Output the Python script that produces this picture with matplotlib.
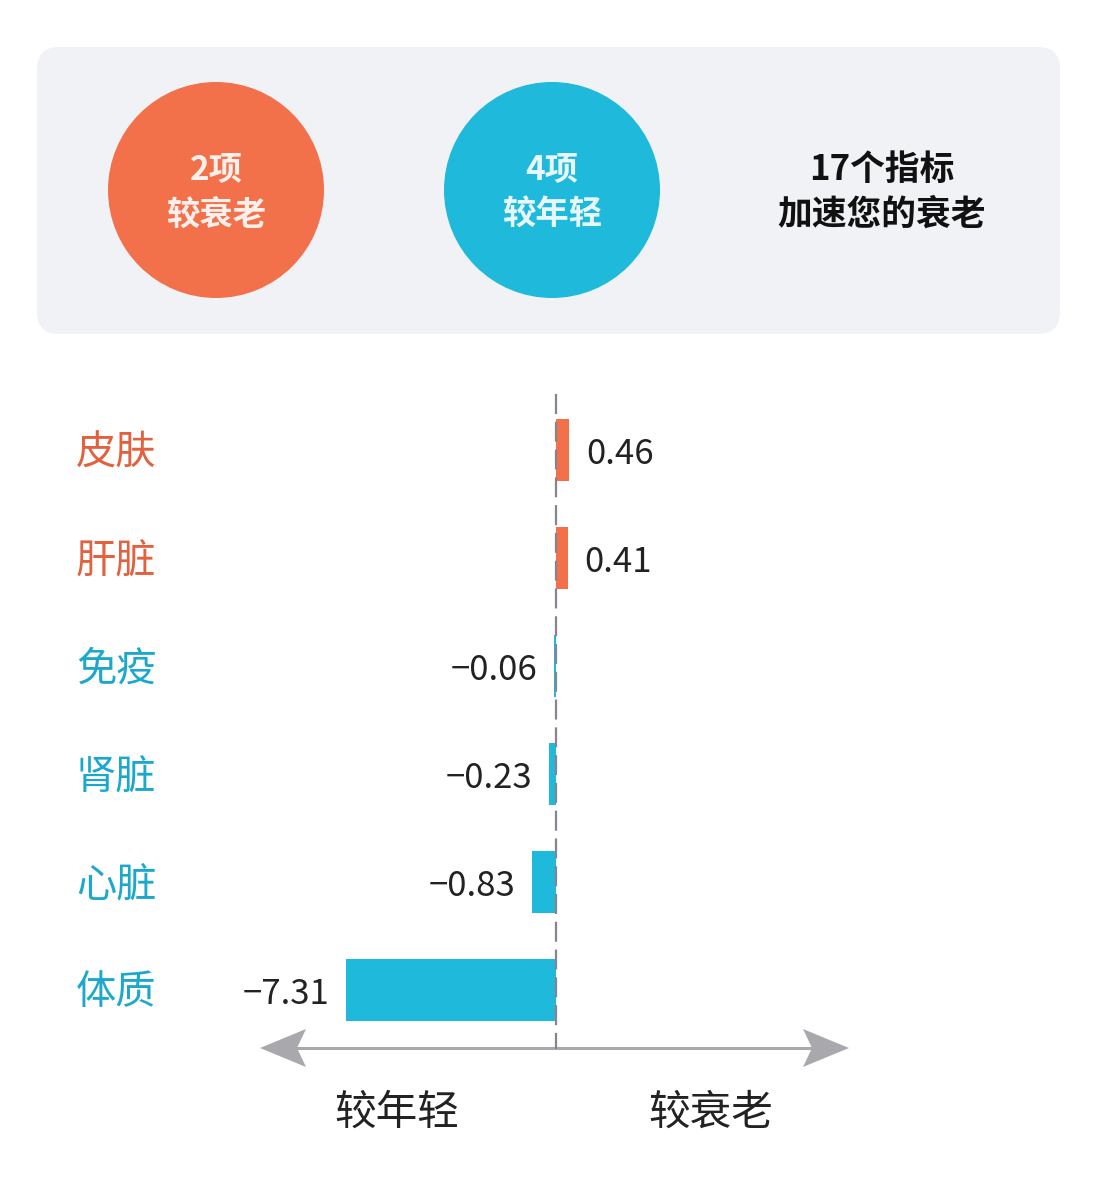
import numpy as np
import matplotlib
matplotlib.use('Agg')
import matplotlib.pyplot as plt
from matplotlib.patches import FancyBboxPatch, Circle, Polygon
from matplotlib.transforms import blended_transform_factory

plt.rcParams['font.family'] = ['Noto Sans CJK SC', 'DejaVu Sans']

# data
organs = ['皮肤', '肝脏', '免疫', '肾脏', '心脏', '体质']
ages = [0.46, 0.41, -0.06, -0.23, -0.83, -7.31]
total_items = 17
side_labels = ['较年轻', '较衰老']

orange = '#F2714A'
cyan = '#1EB9DB'
orange_txt = '#E2623F'
cyan_txt = '#1CA8CC'

W, H = 1102, 1196
fig = plt.figure(figsize=(W / 100, H / 100), dpi=100, facecolor='white')

# decoration layer in pixel units
deco = fig.add_axes([0, 0, 1, 1])
deco.set_xlim(0, W)
deco.set_ylim(H, 0)
deco.axis('off')

# bar layer
ax = fig.add_axes([0, 0, 1, 1])
ax.patch.set_alpha(0)
ppu = 210 / 7.31          # pixels per unit
x0 = 556                  # pixel of zero
ax.set_xlim(-x0 / ppu, (W - x0) / ppu)
step = 108
ytop = 450
ax.set_ylim((H - ytop) / step, -ytop / step)
ax.axis('off')

# header panel
box = FancyBboxPatch((37, 47), 1023, 287, boxstyle='round,pad=0,rounding_size=22',
                     facecolor='#F1F2F6', edgecolor='none')
deco.add_patch(box)

n_old = sum(1 for v in ages if v > 0)
n_young = sum(1 for v in ages if v < 0)
for cx, col, cnt, lab in [(216, orange, n_old, '较衰老'), (552, cyan, n_young, '较年轻')]:
    deco.add_patch(Circle((cx, 190), 108, facecolor=col, edgecolor='none'))
    deco.text(cx, 170, '%d项' % cnt, ha='center', va='center', fontsize=24,
              fontweight='bold', color='white', alpha=0.9)
    deco.text(cx, 215, lab, ha='center', va='center', fontsize=24,
              fontweight='bold', color='white', alpha=0.9)

deco.text(882, 169, '%d个指标' % total_items, ha='center', va='center',
          fontsize=25, fontweight='bold', color='#111111')
deco.text(882, 214, '加速您的衰老', ha='center', va='center',
          fontsize=25, fontweight='bold', color='#111111')

# bars
y = np.arange(len(organs))
cols = [orange if v > 0 else cyan for v in ages]
ax.barh(y, ages, height=0.57, color=cols, zorder=3)

# zero line
ax.vlines(0, -0.52, 5.55, colors='#85858F', linewidth=1.6,
          linestyles=(0, (9, 3.5)), zorder=4)

# value labels
for yi, v in zip(y, ages):
    txt = ('%.2f' % v).replace('-', '\u2212')
    if v >= 0:
        ax.annotate(txt, (v, yi), xytext=(12, -3), textcoords='offset points',
                    ha='left', va='center', fontsize=25, fontweight='light',
                    color='#222222')
    else:
        ax.annotate(txt, (v, yi), xytext=(-12, -3), textcoords='offset points',
                    ha='right', va='center', fontsize=25, fontweight='light',
                    color='#222222')

# category labels
tr = blended_transform_factory(deco.transData, ax.transData)
for yi, name, v in zip(y, organs, ages):
    ax.annotate(name, (76, yi), xycoords=tr, xytext=(0, -2), textcoords='offset points',
                ha='left', va='center', fontsize=29, fontweight='light',
                color=orange_txt if v > 0 else cyan_txt)

# double arrow
arr_y = 1048
gray = '#A9A9AD'
deco.plot([295, 815], [arr_y, arr_y], color=gray, linewidth=2.2, zorder=2)
deco.add_patch(Polygon([(260, arr_y), (306, 1029), (297, arr_y), (306, 1067)],
                       closed=True, facecolor=gray, edgecolor='none'))
deco.add_patch(Polygon([(849, arr_y), (803, 1029), (812, arr_y), (803, 1067)],
                       closed=True, facecolor=gray, edgecolor='none'))

deco.text(397, 1113, side_labels[0], ha='center', va='center', fontsize=30,
          fontweight='light', color='#222222')
deco.text(711, 1113, side_labels[1], ha='center', va='center', fontsize=30,
          fontweight='light', color='#222222')

fig.savefig('out.png', dpi=100, facecolor='white')
